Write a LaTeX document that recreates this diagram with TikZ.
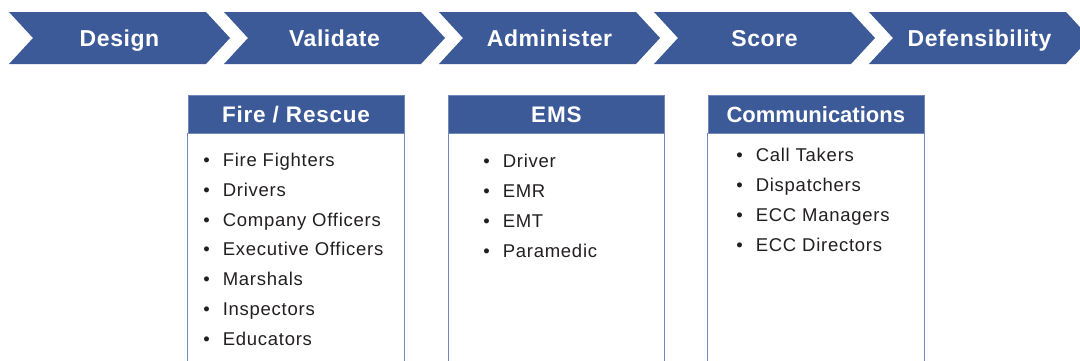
\documentclass[tikz,border=0pt]{standalone}
\usepackage{fontspec}
\setmainfont{Liberation Sans}
\usepackage{xcolor}
\usepackage{tikz}
\usetikzlibrary{calc}
\usetikzlibrary{positioning}

\definecolor{stepblue}{HTML}{3C5A98}
\definecolor{edgeblue}{HTML}{7088BA}
\definecolor{itemgray}{HTML}{231F20}

\begin{document}
\begin{tikzpicture}[x=1pt,y=-1pt,semithick]
  \tikzstyle{chev}=[fill=stepblue,draw=none]
  \tikzstyle{chevtext}=[text=white,font=\fontsize{23}{26}\selectfont\bfseries\addfontfeature{LetterSpace=2.5},inner sep=0pt,text height=16.5pt,text depth=0pt]
  \tikzstyle{head}=[fill=stepblue,draw=edgeblue,thin,text=white,minimum width=216pt,minimum height=38pt,inner sep=0pt,text height=16pt,text depth=0pt,font=\fontsize{22.5}{26}\selectfont\bfseries\addfontfeature{LetterSpace=3.5}]
  \tikzstyle{boxline}=[draw=edgeblue,line width=1pt]
  \tikzstyle{item}=[text=itemgray,anchor=base west,inner sep=0pt,font=\fontsize{18.5}{22}\selectfont\addfontfeature{LetterSpace=4}]
  \useasboundingbox (0,0) rectangle (1080,360);
  \fill[white] (0,0) rectangle (1080,360);
  % process steps
  \foreach \i/\lbl/\nm in {0/Design/design,1/Validate/validate,2/Administer/administer,3/Score/score,4/Defensibility/defens}{
    \path[chev] ({9+215*\i},12) -- ++(197,0) -- ++(24,26) -- ++(-24,26) -- ++(-197,0) -- ++(24,-26) -- cycle;
    \node[chevtext] (\nm) at ({119.5+215*\i},38) {\lbl};
  }
  % groups
  \node[head] (fire) at (296,114) {Fire / Rescue};
  \node[head] (ems) [right=44pt of fire] {EMS};
  \node[head,font=\fontsize{22}{26}\selectfont\bfseries] (comm) [right=43pt of ems] {Communications};
  \foreach \g in {fire,ems,comm}
    \draw[boxline] (\g.south west) -- ++(0,240) (\g.south east) -- ++(0,240);
  \foreach \t [count=\i] in {Fire Fighters,Drivers,Company Officers,Executive Officers,Marshals,Inspectors,Educators}
    \node[item] (fire-\i) at (203,{166.5+29.8*(\i-1)}) {\textbullet\hspace{13pt}\t};
  \foreach \t [count=\i] in {Driver,EMR,EMT,Paramedic}
    \node[item] (ems-\i) at (483,{167+30*(\i-1)}) {\textbullet\hspace{13pt}\t};
  \foreach \t [count=\i] in {Call Takers,Dispatchers,ECC Managers,ECC Directors}
    \node[item] (comm-\i) at (736,{161+30*(\i-1)}) {\textbullet\hspace{13pt}\t};
\end{tikzpicture}
\end{document}
